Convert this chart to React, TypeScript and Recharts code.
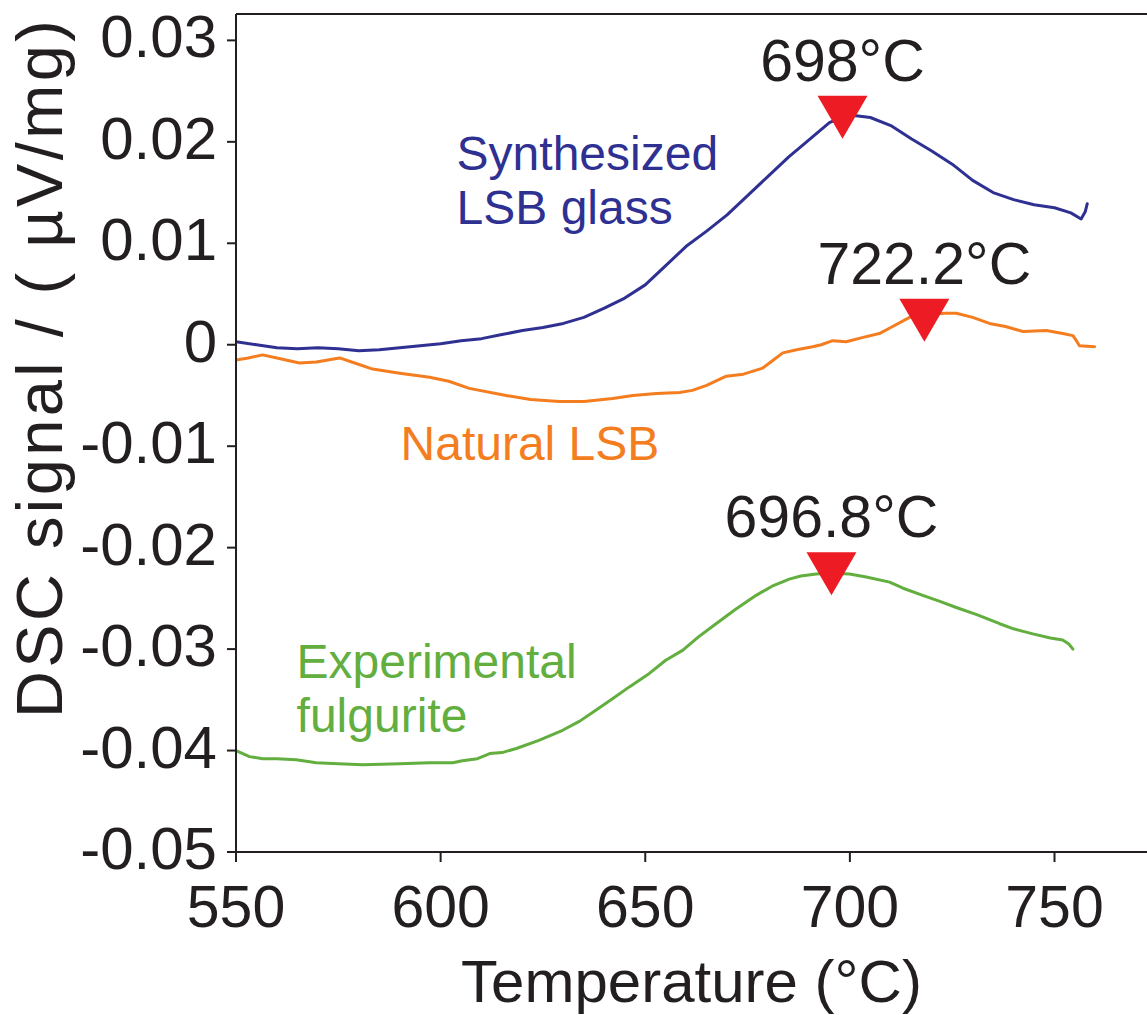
import React from 'react';
import { LineChart, Line, XAxis, YAxis, ReferenceDot, ReferenceLine, Label } from 'recharts';

const FONT = '"Liberation Sans", Arial, Helvetica, sans-serif';
const TEXT = '#231F20';
const BLUE = '#2E3092';
const ORANGE = '#F47D20';
const GREEN = '#62AE3E';
const RED = '#ED1C24';

const X_TICKS = [550, 600, 650, 700, 750];
const Y_TICKS = [-0.05, -0.04, -0.03, -0.02, -0.01, 0, 0.01, 0.02, 0.03];
const X_DOMAIN = [550, 772.6];
const Y_DOMAIN = [-0.05, 0.0326];

const synthT = [550, 555, 560, 565, 570, 575, 580, 585, 590, 595, 600, 605, 610, 615, 620, 625, 630, 635, 640, 645, 650, 655, 660, 665, 670, 675, 680, 685, 690, 695, 698, 701, 705, 710, 715, 720, 725, 730, 735, 740, 745, 750, 754, 756.5, 757.5, 758];
const synthV = [0.0003, 0.0, -0.0003, -0.0004, -0.0003, -0.0004, -0.0006, -0.0005, -0.0003, -0.0001, 0.0001, 0.0004, 0.0006, 0.001, 0.0014, 0.0017, 0.0021, 0.0027, 0.0036, 0.0046, 0.0059, 0.0078, 0.0097, 0.0112, 0.0128, 0.0147, 0.0166, 0.0185, 0.0202, 0.0219, 0.0224, 0.0226, 0.0224, 0.0216, 0.0203, 0.0191, 0.0178, 0.0162, 0.015, 0.0143, 0.0138, 0.0135, 0.013, 0.0124, 0.0131, 0.0139];

const naturalT = [550, 553, 556.5, 560, 565.5, 569.6, 575.3, 579, 583.4, 590, 597.3, 602, 607, 616, 622, 629, 635, 642, 647, 652.7, 658.4, 661.5, 665, 669.8, 674, 678.7, 681, 683.6, 687, 690.9, 693, 695.8, 699.1, 703, 707.2, 710, 714.6, 718, 723.5, 726, 730, 734.1, 738, 742.3, 748, 752, 754.5, 755.5, 756.1, 759.8];
const naturalV = [-0.0015, -0.0013, -0.001, -0.0013, -0.0018, -0.0017, -0.0013, -0.0018, -0.0024, -0.0028, -0.0032, -0.0036, -0.0043, -0.005, -0.0054, -0.0056, -0.0056, -0.0053, -0.005, -0.0048, -0.0047, -0.0045, -0.004, -0.0031, -0.0029, -0.0023, -0.0016, -0.0008, -0.0005, -0.0002, 0.0, 0.0004, 0.0003, 0.0007, 0.0011, 0.0017, 0.0027, 0.003, 0.0031, 0.0031, 0.0027, 0.0021, 0.0018, 0.0013, 0.0014, 0.0011, 0.0009, 0.0003, -0.0001, -0.0002];

const fulguriteT = [550, 553.3, 556.5, 560, 564.7, 569.6, 575, 581, 590, 597.3, 603, 605.3, 609, 612, 615, 618.5, 624, 629.8, 634, 638, 642, 646.2, 651, 655, 659.2, 663, 667.3, 672, 677.1, 681, 685.2, 688, 691.8, 695, 699.9, 704, 709.7, 713, 717.8, 722, 726, 731, 736.6, 740, 744.7, 749, 752, 753.5, 754.5];
const fulguriteV = [-0.04, -0.0406, -0.0408, -0.0408, -0.0409, -0.0412, -0.0413, -0.0414, -0.0413, -0.0412, -0.0412, -0.041, -0.0408, -0.0403, -0.0402, -0.0398, -0.039, -0.038, -0.0371, -0.036, -0.0349, -0.0337, -0.0324, -0.0311, -0.0301, -0.0288, -0.0275, -0.0261, -0.0247, -0.0238, -0.0231, -0.0228, -0.0226, -0.0225, -0.0226, -0.0229, -0.0234, -0.024, -0.0247, -0.0253, -0.0259, -0.0266, -0.0275, -0.028, -0.0285, -0.0289, -0.0291, -0.0295, -0.03];

const markerT = [698.2, 718.2, 695.5];
const markerV = [0.0203, 0.0003, -0.0247];
const markerText = ['698\u00B0C', '722.2\u00B0C', '696.8\u00B0C'];

const seriesNames = ['Synthesized LSB glass', 'Natural LSB', 'Experimental fulgurite'];
const seriesColors = [BLUE, ORANGE, GREEN];
const labelLines = [['Synthesized', 'LSB glass'], ['Natural LSB'], ['Experimental', 'fulgurite']];
const labelT = [603.9, 590.2, 564.8];
const labelV = [0.0172, -0.0114, -0.0328];

const toRows = (ts: number[], vs: number[]) => ts.map((t, i) => ({ t, v: vs[i] }));
const seriesData = [toRows(synthT, synthV), toRows(naturalT, naturalV), toRows(fulguriteT, fulguriteV)];

const fmtY = (v: number) => (Math.abs(v) < 1e-9 ? '0' : v.toFixed(2));

const YTick = (props: any) => {
  const { x, y, payload } = props;
  return (
    <text x={x} y={y + 17} textAnchor="end" fontSize={60} fill={TEXT} fontFamily={FONT}>
      {fmtY(payload.value)}
    </text>
  );
};

const XTick = (props: any) => {
  const { x, y, payload } = props;
  return (
    <text x={x} y={y + 65} textAnchor="middle" fontSize={59} fill={TEXT} fontFamily={FONT}>
      {payload.value}
    </text>
  );
};

const makeMarker = (label: string) => (props: any) => {
  const { cx, cy } = props;
  if (cx == null || cy == null) return <g />;
  const w = 25;
  const h = 43;
  return (
    <g>
      <polygon points={`${cx - w},${cy - h} ${cx + w},${cy - h} ${cx},${cy}`} fill={RED} />
      <text x={cx} y={cy - 58} textAnchor="middle" fontSize={59} fill={TEXT} fontFamily={FONT}>
        {label}
      </text>
    </g>
  );
};

const makeCurveLabel = (lines: string[], color: string) => (props: any) => {
  const { cx, cy } = props;
  if (cx == null || cy == null) return <g />;
  return (
    <text x={cx} y={cy} textAnchor="start" fontSize={48} fill={color} fontFamily={FONT}>
      {lines.map((l, i) => (
        <tspan key={i} x={cx} dy={i === 0 ? 0 : 54}>
          {l}
        </tspan>
      ))}
    </text>
  );
};

const YLabel = () => (
  <text
    x={62}
    y={718}
    transform="rotate(-90, 62, 718)"
    textAnchor="start"
    fontSize={65}
    textLength={698}
    lengthAdjust="spacing"
    fill={TEXT}
    fontFamily={FONT}
  >
    DSC signal / ( {'\u00B5'}V/mg)
  </text>
);

const XLabel = () => (
  <text x={691.5} y={1002} textAnchor="middle" fontSize={60} fill={TEXT} fontFamily={FONT}>
    Temperature ({'\u00B0'}C)
  </text>
);

export default function App() {
  return (
    <div style={{ position: 'absolute', left: 0, top: 0, width: 1147, height: 1015, background: '#fff' }}>
      <LineChart width={1147} height={1015} margin={{ top: 14, right: 0, bottom: 0, left: 0 }}>
        <XAxis
          dataKey="t"
          type="number"
          domain={X_DOMAIN}
          ticks={X_TICKS}
          allowDataOverflow
          height={163}
          tickSize={10}
          tickMargin={0}
          stroke={TEXT}
          strokeWidth={2}
          tick={<XTick />}
        >
          <Label content={<XLabel />} />
        </XAxis>
        <YAxis
          dataKey="v"
          type="number"
          domain={Y_DOMAIN}
          ticks={Y_TICKS}
          allowDataOverflow
          width={236}
          tickSize={9}
          tickMargin={10}
          stroke={TEXT}
          strokeWidth={2}
          tick={<YTick />}
        >
          <Label content={<YLabel />} />
        </YAxis>
        <ReferenceLine y={Y_DOMAIN[1]} stroke={TEXT} strokeWidth={2} ifOverflow="visible" />
        {seriesData.map((d, i) => (
          <Line
            key={seriesNames[i]}
            name={seriesNames[i]}
            data={d}
            dataKey="v"
            type="linear"
            stroke={seriesColors[i]}
            strokeWidth={3}
            dot={false}
            activeDot={false}
            isAnimationActive={false}
            strokeLinejoin="round"
            strokeLinecap="round"
          />
        ))}
        {labelLines.map((lines, i) => (
          <ReferenceDot
            key={'lab' + i}
            x={labelT[i]}
            y={labelV[i]}
            r={0}
            ifOverflow="visible"
            shape={makeCurveLabel(lines, seriesColors[i])}
          />
        ))}
        {markerT.map((t, i) => (
          <ReferenceDot
            key={'mk' + i}
            x={t}
            y={markerV[i]}
            r={0}
            ifOverflow="visible"
            shape={makeMarker(markerText[i])}
          />
        ))}
      </LineChart>
    </div>
  );
}
